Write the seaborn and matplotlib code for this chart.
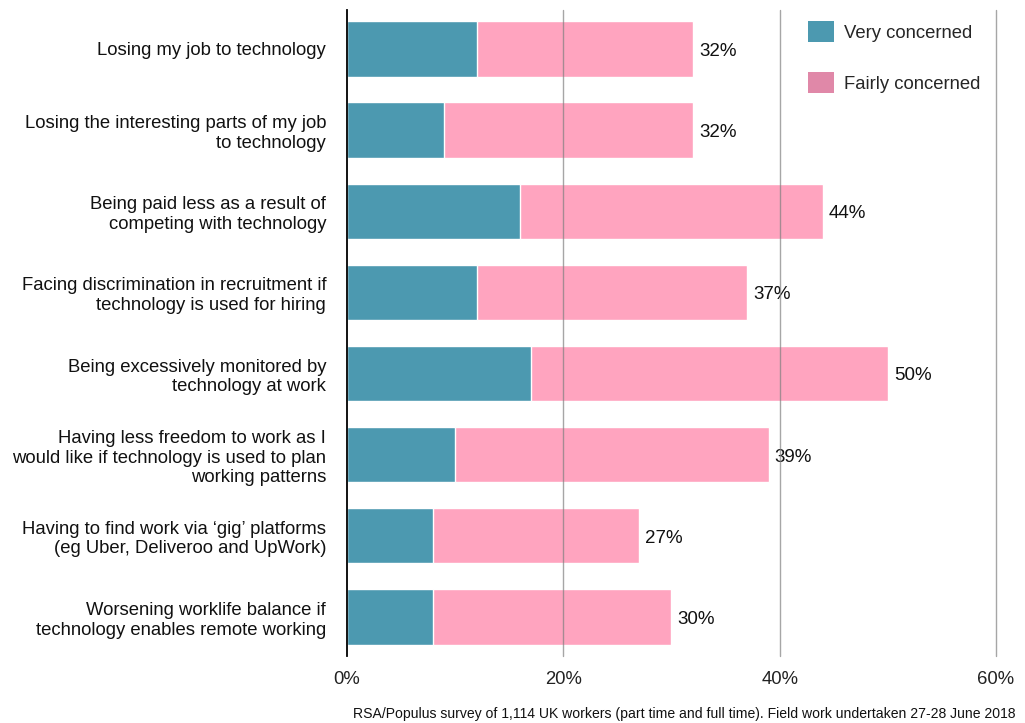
import matplotlib
matplotlib.use("Agg")
import matplotlib.pyplot as plt
from matplotlib.patches import Patch
import pandas as pd
import seaborn as sns

categories = [
    "Losing my job to technology",
    "Losing the interesting parts of my job\nto technology",
    "Being paid less as a result of\ncompeting with technology",
    "Facing discrimination in recruitment if\ntechnology is used for hiring",
    "Being excessively monitored by\ntechnology at work",
    "Having less freedom to work as I\nwould like if technology is used to plan\nworking patterns",
    "Having to find work via \u2018gig\u2019 platforms\n(eg Uber, Deliveroo and UpWork)",
    "Worsening worklife balance if\ntechnology enables remote working",
]
very_concerned = [12, 9, 16, 12, 17, 10, 8, 8]
fairly_concerned = [20, 23, 28, 25, 33, 29, 19, 22]
totals = [v + f for v, f in zip(very_concerned, fairly_concerned)]
x_ticks = [0, 20, 40, 60]
x_tick_labels = ["0%", "20%", "40%", "60%"]
source_note = ("RSA/Populus survey of 1,114 UK workers (part time and full time). "
               "Field work undertaken 27-28 June 2018")

TEAL = "#4C99B0"
PINK = "#FFA4BF"
PINK_KEY = "#E088A8"

sns.set_theme(style="white")
plt.rcParams["font.family"] = ["Liberation Sans", "DejaVu Sans"]

df = pd.DataFrame({"category": categories, "very": very_concerned, "total": totals})

fig = plt.figure(figsize=(10.25, 7.23), dpi=100)
ax = fig.add_axes([0.3385, 0.0927, 0.6332, 0.8935])

sns.barplot(data=df, y="category", x="total", color=PINK, width=0.68,
            orient="h", ax=ax, saturation=1, zorder=1)
sns.barplot(data=df, y="category", x="very", color=TEAL, width=0.68,
            orient="h", ax=ax, saturation=1, zorder=2)

for i, t in enumerate(totals):
    ax.text(t + 0.55, i + 0.03, f"{t}%", va="center", ha="left",
            fontsize=13.5, color="#111111")

ax.set_xlim(0, 60)
ax.set_ylim(7.48, -0.48)
ax.set_xticks(x_ticks)
ax.set_xticklabels(x_tick_labels, fontsize=13.3, color="#222222")
ax.tick_params(axis="x", length=0, pad=11)
ax.tick_params(axis="y", length=0, pad=15, labelsize=13.3, labelcolor="#111111")
for lab in ax.get_yticklabels():
    lab.set_horizontalalignment("right")
    lab.set_multialignment("right")
ax.set_xlabel("")
ax.set_ylabel("")

for g in x_ticks[1:]:
    ax.axvline(g, color="#808080", lw=1, alpha=0.7, zorder=3, clip_on=False)

for s in ["top", "right", "bottom"]:
    ax.spines[s].set_visible(False)
ax.spines["left"].set_color("black")
ax.spines["left"].set_linewidth(1.3)
ax.spines["left"].set_zorder(4)

handles = [Patch(facecolor=TEAL, edgecolor="none", label="Very concerned"),
           Patch(facecolor=PINK_KEY, edgecolor="none", label="Fairly concerned")]
leg = ax.legend(handles=handles, loc="upper right", bbox_to_anchor=(0.993, 1.0),
                frameon=False, fontsize=13.3, handlelength=1.4, handleheight=1.4,
                handletextpad=0.55, labelspacing=1.6, borderaxespad=0.2)

fig.text(0.668, 0.003, source_note, ha="center", va="bottom", fontsize=10.1, color="#111111")

fig.savefig("out.png", dpi=100)
